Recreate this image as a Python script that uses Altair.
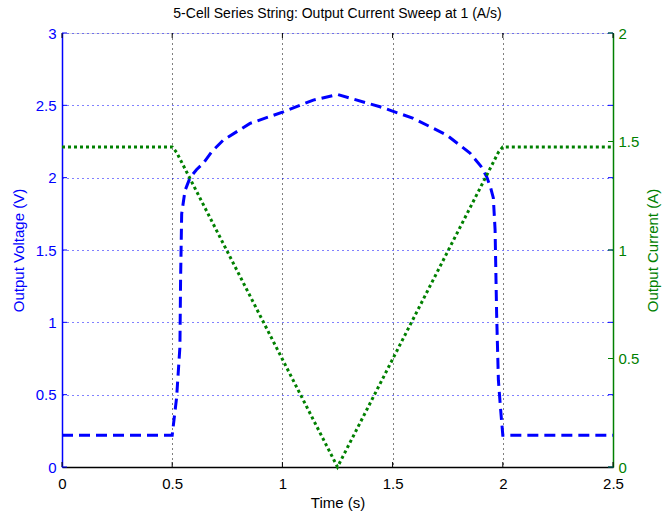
import altair as alt
import pandas as pd

# ---- data ----
v_time = [0.0, 0.5, 0.52, 0.535, 0.538, 0.543, 0.558, 0.581, 0.61, 0.641, 0.68, 0.732,
          0.853, 1.004, 1.14, 1.25, 1.443, 1.594, 1.745, 1.851, 1.9, 1.927, 1.945,
          1.957, 1.965, 1.972, 1.98, 1.99, 2.0, 2.5]
voltage = [0.22, 0.22, 0.48, 0.83, 1.29, 1.75, 1.91, 2.0, 2.055, 2.10, 2.18, 2.26,
           2.375, 2.455, 2.536, 2.575, 2.49, 2.41, 2.295, 2.17, 2.08, 2.006, 1.93,
           1.86, 1.64, 1.06, 0.60, 0.40, 0.22, 0.22]

i_time = [0.0, 0.5, 0.52, 1.25, 1.98, 2.0, 2.5]
current = [1.475, 1.475, 1.45, 0.0, 1.45, 1.475, 1.475]

x_ticks = [0, 0.5, 1, 1.5, 2, 2.5]
v_ticks = [0, 0.5, 1, 1.5, 2, 2.5, 3]
i_ticks = [0, 0.5, 1, 1.5, 2]

BLUE = "#0000FF"
GREEN = "#008000"
FONT = "Liberation Sans"
W, H = 551, 434
LS = 15
TS = 15

vdf = pd.DataFrame({"t": v_time, "v": voltage})
idf = pd.DataFrame({"t": i_time, "i": current})
xt = pd.DataFrame({"t": x_ticks})
vt = pd.DataFrame({"v": v_ticks})
it = pd.DataFrame({"i": i_ticks})

X = alt.X("t:Q", title="Time (s)",
          scale=alt.Scale(domain=[0, 2.5], nice=False, zero=False),
          axis=alt.Axis(values=x_ticks, format="~g", grid=True, gridColor="black",
                        gridDash=[1, 4], gridOpacity=1, gridWidth=1,
                        ticks=False, domainColor="black", domainWidth=1.5,
                        labelFlush=False, labelColor="black", labelFontSize=LS,
                        labelFont=FONT, labelPadding=9, titleFont=FONT, titleFontSize=TS,
                        titleFontWeight="normal", titleColor="black", titlePadding=4))

YV = alt.Y("v:Q", title="Output Voltage (V)",
           scale=alt.Scale(domain=[0, 3], nice=False),
           axis=alt.Axis(orient="left", values=v_ticks, format="~g", grid=True,
                         gridColor=BLUE, gridDash=[1, 4], gridOpacity=1, gridWidth=1,
                         ticks=False, domainColor=BLUE, domainWidth=1.5,
                         labelFlush=False, labelColor=BLUE, labelFontSize=LS,
                         labelFont=FONT, labelPadding=6, titleFont=FONT, titleFontSize=TS,
                         titleFontWeight="normal", titleColor=BLUE, titlePadding=9))

YI = alt.Y("i:Q", title="Output Current (A)",
           scale=alt.Scale(domain=[0, 2], nice=False),
           axis=alt.Axis(orient="right", values=i_ticks, format="~g", grid=False,
                         ticks=False, domainColor=GREEN, domainWidth=1.5,
                         labelFlush=False, labelColor=GREEN, labelFontSize=LS,
                         labelFont=FONT, labelPadding=5, titleFont=FONT, titleFontSize=TS,
                         titleFontWeight="normal", titleColor=GREEN, titleAngle=270,
                         titlePadding=22))

vline = alt.Chart(vdf).mark_line(color=BLUE, strokeWidth=3, strokeDash=[11, 6]).encode(
    x=X, y=YV)

xt_bottom = alt.Chart(xt).mark_rule(color="black", strokeWidth=1).encode(
    x=X, y=alt.value(H), y2=alt.value(H - 5))
xt_top = alt.Chart(xt).mark_rule(color="black", strokeWidth=1).encode(
    x=X, y=alt.value(0), y2=alt.value(5))
vt_left = alt.Chart(vt).mark_rule(color=BLUE, strokeWidth=1).encode(
    y=YV, x=alt.value(0), x2=alt.value(5))
vt_right = alt.Chart(vt).mark_rule(color=BLUE, strokeWidth=1).encode(
    y=YV, x=alt.value(W - 5), x2=alt.value(W))

vgroup = alt.layer(xt_bottom, xt_top, vt_left, vt_right, vline)

iline = alt.Chart(idf).mark_line(color=GREEN, strokeWidth=3, strokeDash=[3, 3]).encode(
    x=X, y=YI)
it_right = alt.Chart(it).mark_rule(color=GREEN, strokeWidth=1).encode(
    y=YI, x=alt.value(W - 5), x2=alt.value(W))

igroup = alt.layer(it_right, iline)

chart = alt.layer(vgroup, igroup).resolve_scale(y="independent").properties(
    width=W, height=H,
    title=alt.TitleParams("5-Cell Series String: Output Current Sweep at 1 (A/s)",
                          font=FONT, fontSize=14, fontWeight="normal", color="black",
                          anchor="middle", frame="group", offset=5),
    padding={"left": 62, "top": 33, "right": 50, "bottom": 45},
    autosize=alt.AutoSizeParams(type="none"),
).configure_view(stroke="black", strokeWidth=1).configure(background="white")

chart.save("out.html", embed_options={"renderer": "svg", "actions": False})
